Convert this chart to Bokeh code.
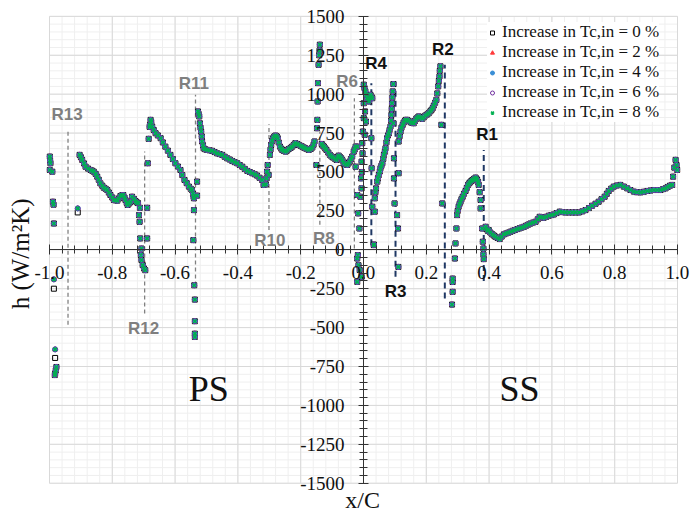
from bokeh.plotting import figure
from bokeh.models import FixedTicker, PrintfTickFormatter, Label, Legend, LegendItem
from bokeh.embed import file_html
from bokeh.resources import INLINE

# ---------------- data ----------------
series_labels = ["Increase in Tc,in = 0 %", "Increase in Tc,in = 2 %", "Increase in Tc,in = 4 %",
                 "Increase in Tc,in = 6 %", "Increase in Tc,in = 8 %"]

# points shared by all five series (x/C, h)
x_ps_le = [-0.999, -0.998, -0.997, -0.999, -0.991, -0.989, -0.987, -0.986, -0.978, -0.980, -0.982, -0.983]
h_ps_le = [599, 575, 556, 513, 502, 309, 290, 169, -753, -775, -796, -805]

x_r13 = [-0.904, -0.900, -0.896, -0.890, -0.885, -0.877, -0.869, -0.864, -0.859, -0.853, -0.848, -0.843,
         -0.838, -0.832, -0.827, -0.821, -0.816, -0.811, -0.806, -0.800, -0.795, -0.790, -0.784, -0.779,
         -0.774, -0.769, -0.765, -0.761, -0.758, -0.754, -0.751, -0.746, -0.742, -0.737, -0.731, -0.726,
         -0.722, -0.718, -0.712, -0.715, -0.713, -0.711, -0.707, -0.709, -0.707, -0.703, -0.699, -0.695]
h_r13 = [610, 595, 578, 555, 534, 522, 513, 508, 502, 488, 470, 450,
         427, 412, 399, 392, 384, 368, 352, 336, 320, 318, 316, 330,
         346, 350, 352, 335, 320, 302, 288, 298, 309, 341, 327, 313,
         305, 300, 270, 223, 180, 73, 8, -34, -66, -99, -120, -131]

x_r12 = [-0.689, -0.689, -0.687, -0.684, -0.681, -0.680, -0.678, -0.676, -0.673, -0.668, -0.662, -0.655,
         -0.646, -0.639, -0.631, -0.623, -0.615, -0.607, -0.599, -0.591, -0.583, -0.577, -0.570, -0.563,
         -0.556, -0.550, -0.546, -0.543, -0.541, -0.540, -0.540, -0.542, -0.530, -0.530,
         -0.539, -0.537, -0.537, -0.537, -0.537]
h_r12 = [73, 270, 556, 713, 790, 803, 835, 820, 792, 770, 749, 735,
         717, 690, 663, 637, 610, 583, 556, 535, 513, 480, 449, 428,
         406, 392, 384, 360, 341, 331, 255, 62, 438, 348,
         -228, -320, -459, -539, -560]

x_r11 = [-0.527, -0.525, -0.523, -0.521, -0.519, -0.517, -0.515, -0.514, -0.511, -0.509, -0.504, -0.498,
         -0.490, -0.482, -0.474, -0.466, -0.458, -0.450, -0.442, -0.434, -0.426, -0.418, -0.410, -0.402,
         -0.394, -0.386, -0.378, -0.370, -0.362, -0.354, -0.346, -0.339, -0.331, -0.323, -0.318,
         -0.311, -0.309, -0.307, -0.305, -0.302]
h_r11 = [889, 873, 857, 813, 785, 760, 728, 696, 672, 652, 646, 642,
         639, 636, 628, 620, 615, 610, 598, 588, 580, 571, 563, 556,
         545, 534, 520, 507, 500, 492, 485, 477, 463, 449, 417,
         420, 459, 502, 545, 481]

x_r10 = [-0.298, -0.296, -0.294, -0.291, -0.288, -0.284, -0.280, -0.276, -0.273, -0.270, -0.266, -0.262,
         -0.259, -0.254, -0.248, -0.243, -0.238, -0.232, -0.227, -0.222, -0.217, -0.211, -0.206, -0.200,
         -0.195, -0.190, -0.185, -0.179, -0.174, -0.168, -0.163, -0.159, -0.156,
         -0.150, -0.148, -0.147, -0.146, -0.145, -0.143, -0.141, -0.140, -0.139]
h_r10 = [610, 645, 674, 700, 717, 728, 734, 728, 717, 690, 663, 650,
         642, 636, 631, 638, 648, 655, 663, 674, 685, 680, 674, 668,
         663, 657, 652, 647, 642, 648, 657, 675, 696,
         545, 781, 835, 953, 1071, 1189, 1250, 1280, 1318]

x_r8 = [-0.133, -0.130, -0.126, -0.122, -0.118, -0.112, -0.107, -0.102, -0.097, -0.091, -0.086, -0.082,
        -0.079, -0.075, -0.071, -0.067, -0.063, -0.058, -0.052, -0.048, -0.044, -0.040, -0.036, -0.031,
        -0.028, -0.025]
h_r8 = [680, 670, 663, 652, 642, 625, 610, 600, 593, 585, 578, 595,
        605, 596, 588, 575, 560, 550, 545, 555, 567, 583, 599, 631,
        645, 663]

x_le = [-0.025, -0.020, -0.020, -0.017, -0.013, -0.010, -0.006, -0.008, -0.006, -0.004, -0.002, 0.001,
        0.001, 0.001, 0.003, 0.006, 0.009, 0.012, 0.015, 0.017, 0.020, 0.022, 0.025, 0.028,
        0.005, 0.008, 0.004, -0.003, -0.005,
        -0.020, -0.016, -0.020, -0.006, -0.012, -0.018,
        0.025, 0.026, 0.028, 0.033]
h_le = [534, 663, 352, 234, 137, 341, 395, 459, 567, 685, 760, 846,
        942, 1061, 1040, 1018, 995, 974, 960, 953, 975, 996, 985, 974,
        889, 824, 739, 620, 500,
        -56, -99, -206, -174, -130, -34,
        717, 524, 277, 34]

x_r3 = [0.033, 0.036, 0.036, 0.038, 0.040, 0.044, 0.046, 0.049, 0.052, 0.054, 0.057, 0.060,
        0.063, 0.065, 0.068, 0.070, 0.073, 0.075, 0.078, 0.081, 0.083, 0.086, 0.088, 0.089,
        0.090, 0.091, 0.092, 0.093, 0.095,
        0.095, 0.097, 0.097, 0.099, 0.107, 0.110, 0.111, 0.112]
h_r3 = [30, 245, 331, 370, 395, 438, 460, 481, 503, 524, 540, 556,
        585, 610, 630, 652, 690, 717, 735, 749, 770, 792, 830, 867,
        905, 942, 980, 1018, 1065,
        813, 588, 459, 298, 223, 137, -110, 492]

x_r2 = [0.112, 0.115, 0.118, 0.121, 0.125, 0.128, 0.132, 0.135, 0.139, 0.144, 0.150, 0.155,
        0.160, 0.164, 0.168, 0.172, 0.176, 0.181, 0.187, 0.192, 0.197, 0.203, 0.208, 0.213,
        0.217, 0.221, 0.224, 0.228, 0.232, 0.235, 0.238, 0.240, 0.242, 0.243, 0.245, 0.248, 0.251]
h_r2 = [696, 730, 760, 785, 803, 818, 829, 835, 835, 828, 820, 816,
        813, 828, 842, 850, 857, 850, 842, 852, 863, 870, 878, 890,
        900, 912, 927, 945, 964, 1005, 1050, 1085, 1114, 1150, 1179, 803, 298]

x_r1 = [0.282, 0.284, 0.284, 0.284, 0.291, 0.293, 0.296, 0.298, 0.300, 0.303, 0.306, 0.309,
        0.312, 0.316, 0.320, 0.325, 0.329, 0.333, 0.337, 0.341, 0.345, 0.348, 0.352, 0.357,
        0.360, 0.362, 0.365, 0.367, 0.370, 0.373, 0.373, 0.378, 0.380, 0.382, 0.382, 0.383]
h_r1 = [-352, -270, -207, -185, -56, 41, 137, 223, 250, 277, 295, 309,
        325, 341, 360, 378, 398, 417, 428, 438, 444, 449, 456, 464,
        455, 449, 435, 417, 370, 320, 266, 137, 52, 8, -30, -60]

x_ss = [0.389, 0.392, 0.396, 0.399, 0.404, 0.410, 0.415, 0.420, 0.427, 0.434, 0.440, 0.447,
        0.454, 0.461, 0.468, 0.475, 0.482, 0.490, 0.497, 0.504, 0.511, 0.518, 0.525, 0.532,
        0.540, 0.548, 0.555, 0.561, 0.567, 0.574, 0.582, 0.590, 0.598, 0.606, 0.615, 0.625,
        0.634, 0.643, 0.654, 0.665, 0.675, 0.686, 0.697, 0.707, 0.718, 0.728, 0.739, 0.749,
        0.758, 0.768, 0.775, 0.781, 0.789, 0.797, 0.807, 0.818, 0.829, 0.840, 0.850, 0.861,
        0.871, 0.882, 0.893, 0.904, 0.914, 0.925, 0.935, 0.946, 0.954, 0.962, 0.969, 0.976,
        0.983, 0.986, 0.990, 0.994, 0.999, 0.997]
h_ss = [148, 133, 122, 127, 111, 100, 92, 84, 76, 69, 85, 99,
        105, 110, 116, 122, 127, 133, 138, 143, 148, 155, 162, 169,
        175, 180, 196, 212, 209, 206, 212, 219, 223, 227, 236, 245,
        242, 240, 240, 240, 240, 240, 247, 255, 268, 283, 296, 309,
        325, 341, 360, 378, 393, 406, 413, 417, 406, 395, 384, 374,
        370, 369, 373, 378, 381, 384, 384, 384, 390, 395, 404, 412,
        417, 470, 528, 578, 513, 545]

# points where the 0 % series sits apart from the others
x_apart = [-0.986, -0.982, -0.910]
h_apart_0 = [-250, -695, 240]
h_apart_rest = [-190, -640, 266]

# reference lines R1..R13
ref_names = ["R13", "R12", "R11", "R10", "R8", "R6", "R4", "R3", "R2", "R1"]
ref_x = [-0.941, -0.697, -0.535, -0.301, -0.139, -0.029, 0.025, 0.102, 0.259, 0.383]
ref_top = [760, 631, 996, 807, 760, 974, 1071, 1082, 1189, 642]
ref_bot = [-481, -410, -230, 127, 161, 8, 30, -174, -313, -200]
ref_lab_x = [-0.944, -0.700, -0.540, -0.298, -0.126, -0.052, 0.040, 0.102, 0.253, 0.394]
ref_lab_y = [868, -507, 1071, 62, 73, 1082, 1200, -266, 1286, 739]
ref_side = ["PS", "PS", "PS", "PS", "PS", "PS", "SS", "SS", "SS", "SS"]

x_ticks = [-1.0, -0.8, -0.6, -0.4, -0.2, 0.0, 0.2, 0.4, 0.6, 0.8, 1.0]
y_ticks = [-1500, -1250, -1000, -750, -500, -250, 0, 250, 500, 750, 1000, 1250, 1500]
x_minor = [round(-1 + 0.04 * i, 2) for i in range(51)]
y_minor = [-1500 + 50 * i for i in range(61)]

# ---------------- figure ----------------
x_all = x_ps_le + x_r13 + x_r12 + x_r11 + x_r10 + x_r8 + x_le + x_r3 + x_r2 + x_r1 + x_ss
h_all = h_ps_le + h_r13 + h_r12 + h_r11 + h_r10 + h_r8 + h_le + h_r3 + h_r2 + h_r1 + h_ss

XMIN, XMAX = x_ticks[0], x_ticks[-1]
YMIN, YMAX = y_ticks[0], y_ticks[-1]

p = figure(width=691, height=514, x_range=(-1.156, 1.0446), y_range=(-1701, 1602),
           output_backend="svg", toolbar_location=None,
           min_border_left=0, min_border_right=0, min_border_top=0, min_border_bottom=0)
p.outline_line_color = None
p.background_fill_color = "white"
p.xgrid.visible = False
p.ygrid.visible = False

# plot-area grid (limited to the axis span)
p.segment(x0=x_minor, y0=[YMIN] * len(x_minor), x1=x_minor, y1=[YMAX] * len(x_minor),
          line_color="#efefef", line_width=1)
p.segment(x0=[XMIN] * len(y_minor), y0=y_minor, x1=[XMAX] * len(y_minor), y1=y_minor,
          line_color="#efefef", line_width=1)
p.segment(x0=x_ticks, y0=[YMIN] * len(x_ticks), x1=x_ticks, y1=[YMAX] * len(x_ticks),
          line_color="#d9d9d9", line_width=1)
p.segment(x0=[XMIN] * len(y_ticks), y0=y_ticks, x1=[XMAX] * len(y_ticks), y1=y_ticks,
          line_color="#d9d9d9", line_width=1)

xt = FixedTicker(ticks=x_ticks, minor_ticks=x_minor)
yt = FixedTicker(ticks=y_ticks, minor_ticks=y_minor)
ax = p.xaxis[0]
ay = p.yaxis[0]
ax.fixed_location = 0
ay.fixed_location = 0
ax.bounds = (XMIN, XMAX)
ay.bounds = (YMIN, YMAX)
ax.ticker = xt
ay.ticker = yt
ax.formatter = PrintfTickFormatter(format="%.1f")
ay.formatter = PrintfTickFormatter(format="%d")
for a in (ax, ay):
    a.axis_line_color = "#333333"
    a.major_tick_line_color = "#333333"
    a.minor_tick_line_color = "#333333"
    a.major_tick_in = 5
    a.major_tick_out = 5
    a.minor_tick_in = 4
    a.minor_tick_out = 4
    a.major_label_text_font = "Liberation Serif"
    a.major_label_text_font_size = "19px"
    a.major_label_text_color = "#111111"
ax.major_label_standoff = 11
ay.major_label_standoff = 14

# reference dashed lines
for nm, xv, t, b, side in zip(ref_names, ref_x, ref_top, ref_bot, ref_side):
    if side == "PS":
        p.segment(x0=[xv], y0=[b], x1=[xv], y1=[t], line_color="#808080", line_width=1.3, line_dash="4 3")
    else:
        p.segment(x0=[xv], y0=[b], x1=[xv], y1=[t], line_color="#1f3864", line_width=2, line_dash="6 4")

# data series
styles = [
    dict(marker="square", size=5, fill_color=None, line_color="#000000", line_width=1),
    dict(marker="triangle", size=5, fill_color="#ff3b3b", line_color="#ff3b3b", line_width=1),
    dict(marker="circle", size=5, fill_color="#3a8fd6", line_color="#3a8fd6", line_width=1),
    dict(marker="circle", size=5, fill_color=None, line_color="#7030a0", line_width=1),
    dict(marker="x", size=5, line_color="#00b050", line_width=1.6),
]
renderers = []
for i, st in enumerate(styles):
    ha = h_apart_0 if i == 0 else h_apart_rest
    r = p.scatter(x_all + x_apart, h_all + ha, **st)
    renderers.append(r)

# R labels
for nm, lx, ly, side in zip(ref_names, ref_lab_x, ref_lab_y, ref_side):
    p.add_layout(Label(x=lx, y=ly, text=nm, text_align="center", text_baseline="middle",
                       text_font="Liberation Sans", text_font_style="bold", text_font_size="17px",
                       text_color="#7f7f7f" if side == "PS" else "#111111"))

p.add_layout(Label(x=-0.493, y=-893, text="PS", text_align="center", text_baseline="middle",
                   text_font="Liberation Serif", text_font_size="36px", text_color="#111111"))
p.add_layout(Label(x=0.497, y=-893, text="SS", text_align="center", text_baseline="middle",
                   text_font="Liberation Serif", text_font_size="36px", text_color="#111111"))

# axis titles
p.add_layout(Label(x=-0.003, y=-1605, text="x/C", text_align="center", text_baseline="middle",
                   text_font="Liberation Serif", text_font_size="24px", text_color="#111111"))
p.add_layout(Label(x=-1.092, y=-26, text="h (W/m\u00b2K)", angle=1.5708, text_align="center",
                   text_baseline="middle", text_font="Liberation Serif", text_font_size="25px",
                   text_color="#111111"))

legend = Legend(items=[LegendItem(label=l, renderers=[r]) for l, r in zip(series_labels, renderers)],
                location=(487, 392))
legend.label_text_font = "Liberation Serif"
legend.label_text_font_size = "17px"
legend.label_text_color = "#111111"
legend.glyph_width = 10
legend.glyph_height = 19
legend.label_height = 19
legend.label_standoff = 5
legend.spacing = 0
legend.padding = 6
legend.margin = 0
legend.border_line_color = None
legend.background_fill_color = "white"
legend.background_fill_alpha = 1
p.add_layout(legend)

open("out.html", "w").write(file_html(p, INLINE))
